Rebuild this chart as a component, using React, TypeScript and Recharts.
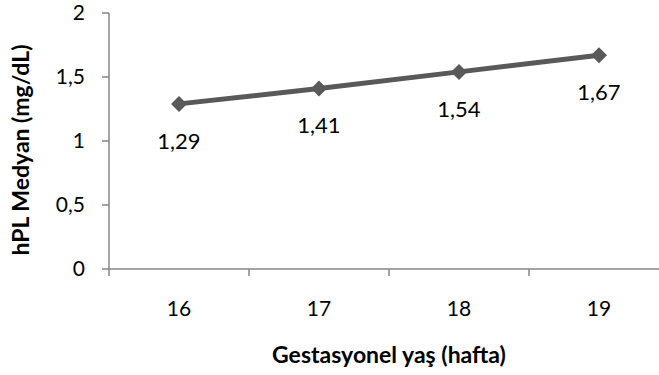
import { LineChart, Line, XAxis, YAxis, LabelList, Label } from 'recharts';

// gestational week (hafta) and median hPL (mg/dL)
const weeks = [16, 17, 18, 19];
const hplMedian = [1.29, 1.41, 1.54, 1.67];
const yTicks = [0, 0.5, 1, 1.5, 2];

const data = weeks.map((week, i) => ({ week, hpl: hplMedian[i] }));

// integer ticks carry the labels, half ticks mark the category boundaries
const xTicks = [...weeks.flatMap((w) => [w - 0.5, w]), weeks[weeks.length - 1] + 0.5];

const FONT = 'Lato, "Open Sans", sans-serif';
const AXIS = '#868686';
const SERIES = '#595959';

const comma = (v: number) => String(v).replace('.', ',');

const WeekTick = ({ x, y, payload }: any) => {
  if (!Number.isInteger(payload.value)) {
    return <line x1={x} x2={x} y1={y} y2={y + 7} stroke={AXIS} strokeWidth={1.5} />;
  }
  return (
    <text x={x} y={y + 38} textAnchor="middle" dominantBaseline="central" fontFamily={FONT} fontSize={21} fill="#000">
      {payload.value}
    </text>
  );
};

const Diamond = ({ cx, cy, index }: any) => (
  <polygon
    key={`d-${index}`}
    points={`${cx},${cy - 8} ${cx + 8},${cy} ${cx},${cy + 8} ${cx - 8},${cy}`}
    fill={SERIES}
  />
);

const App = () => {
  return (
    <div
      style={{
        position: 'absolute',
        left: 0,
        top: 0,
        width: 659,
        height: 375,
        overflow: 'hidden',
        background: '#fff',
        fontFamily: FONT,
      }}
    >
      <LineChart width={680} height={375} data={data} margin={{ top: 13, right: 11, bottom: 0, left: 0 }}>
        <XAxis
          dataKey="week"
          type="number"
          domain={[15.5, 19.5]}
          ticks={xTicks}
          interval={0}
          height={106}
          stroke={AXIS}
          strokeWidth={1.5}
          tickLine={false}
          tickSize={0}
          tickMargin={0}
          tick={<WeekTick />}
        >
          <Label
            content={({ viewBox }: any) => (
              <text
                x={viewBox.x + viewBox.width / 2}
                y={viewBox.y + 85}
                textAnchor="middle"
                dominantBaseline="central"
                fontFamily={FONT}
                fontWeight="bold"
                fontSize={23}
                fill="#000"
              >
                Gestasyonel yaş (hafta)
              </text>
            )}
          />
        </XAxis>
        <YAxis
          type="number"
          domain={[0, 2]}
          ticks={yTicks}
          interval={0}
          width={109}
          stroke={AXIS}
          strokeWidth={1.5}
          tickSize={7}
          tickMargin={17}
          tickFormatter={comma}
          tick={{ fill: '#000', fontSize: 21, fontFamily: FONT }}
        >
          <Label
            content={({ viewBox }: any) => {
              const cx = viewBox.x + 20;
              const cy = viewBox.y + viewBox.height / 2 + 9;
              return (
                <text
                  x={cx}
                  y={cy}
                  transform={`rotate(-90, ${cx}, ${cy})`}
                  textAnchor="middle"
                  dominantBaseline="central"
                  fontFamily={FONT}
                  fontWeight="bold"
                  fontSize={23}
                  fill="#000"
                >
                  hPL Medyan (mg/dL)
                </text>
              );
            }}
          />
        </YAxis>
        <Line
          dataKey="hpl"
          stroke={SERIES}
          strokeWidth={5}
          dot={<Diamond />}
          activeDot={false}
          isAnimationActive={false}
        >
          <LabelList
            dataKey="hpl"
            position="bottom"
            offset={29}
            formatter={(v: any) => comma(v)}
            fill="#000"
            fontSize={22}
            fontFamily={FONT}
          />
        </Line>
      </LineChart>
    </div>
  );
};

export default App;
